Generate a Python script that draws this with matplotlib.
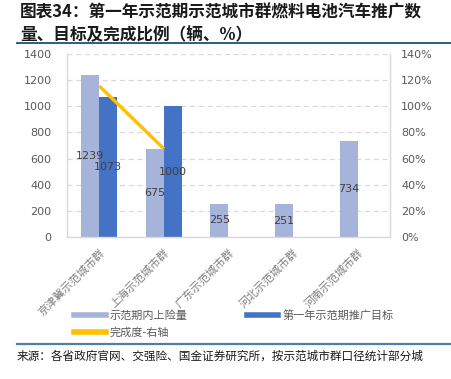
import matplotlib.pyplot as plt
from matplotlib.lines import Line2D
import numpy as np

plt.rcParams['font.family'] = ['Noto Sans CJK SC', 'DejaVu Sans']

cities = ['京津冀示范城市群', '上海示范城市群', '广东示范城市群', '河北示范城市群', '河南示范城市群']
insured = [1239, 675, 255, 251, 734]
target = [1073, 1000, None, None, None]
completion = [115.5, 67.5]  # % , only first two groups have a target

light = '#A6B4DA'
dark = '#4472C4'
yellow = '#FFC000'
grey = '#595959'

fig = plt.figure(figsize=(4.51, 3.79), dpi=100)
ax = fig.add_axes([0.1486, 0.3747, 0.7161, 0.4828])

x = np.arange(len(cities))
w = 0.28
ax.bar(x - w / 2, insured, w, color=light, zorder=2)
tx = [i for i, v in enumerate(target) if v is not None]
tv = [v for v in target if v is not None]
ax.bar(np.array(tx) + w / 2, tv, w, color=dark, zorder=2)

for i, v in enumerate(insured):
    ax.text(i - w / 2, v / 2, str(v), ha='center', va='center', fontsize=8,
            color='#404040', family='DejaVu Sans', zorder=5)
for i, v in zip(tx, tv):
    ax.text(i + w / 2, v / 2, str(v), ha='center', va='center', fontsize=8,
            color='#404040', family='DejaVu Sans', zorder=5)

ax.set_xlim(-0.5, 4.5)
ax.set_ylim(0, 1400)
ax.set_yticks(range(0, 1401, 200))
ax.yaxis.grid(True, linestyle=(0, (4, 3)), color='#D9D9D9', linewidth=0.9, zorder=0)
ax.set_xticks(x)
ax.set_xticklabels(cities, rotation=45, ha='right', va='top', rotation_mode='anchor',
                   fontsize=8, color='#7f7f7f')
ax.tick_params(axis='both', length=0, pad=7)
ax.tick_params(axis='y', labelsize=8, labelcolor=grey, pad=11)
for lab in ax.get_yticklabels():
    lab.set_family('DejaVu Sans')
ax.spines['top'].set_visible(False)
for s in ['left', 'right', 'bottom']:
    ax.spines[s].set_color('#D9D9D9')
    ax.spines[s].set_linewidth(1.0)

ax2 = ax.twinx()
ax2.plot(tx, completion, color=yellow, linewidth=2.4, solid_capstyle='butt', zorder=4)
ax2.set_ylim(0, 140)
ax2.set_yticks(range(0, 141, 20))
ax2.set_yticklabels([f'{v}%' for v in range(0, 141, 20)], family='DejaVu Sans')
ax2.tick_params(axis='y', length=0, labelsize=8, labelcolor=grey, pad=8)
for s in ['top', 'left', 'bottom']:
    ax2.spines[s].set_visible(False)
ax2.spines['right'].set_color('#D9D9D9')

handles = [Line2D([], [], color=light, linewidth=4),
           Line2D([], [], color=yellow, linewidth=4),
           Line2D([], [], color=dark, linewidth=4)]
labels = ['示范期内上险量', '完成度-右轴', '第一年示范期推广目标']
fig.legend(handles, labels, ncol=2, loc='upper left', bbox_to_anchor=(0.165, 0.181),
           frameon=False, fontsize=8, labelcolor=grey, handlelength=2.8,
           handletextpad=0.4, columnspacing=5.3, labelspacing=0.5,
           borderpad=0, borderaxespad=0)

fig.text(0.044, 1 - 12 / 379, '图表34：第一年示范期示范城市群燃料电池汽车推广数',
         fontsize=12, fontweight='bold', color='#1a1a1a', va='center')
fig.text(0.044, 1 - 35 / 379, '量、目标及完成比例（辆、%）',
         fontsize=12, fontweight='bold', color='#1a1a1a', va='center')
fig.add_artist(Line2D([17 / 451, 1], [1 - 42.5 / 379] * 2, color='#1F4E79', linewidth=1.3))
fig.add_artist(Line2D([17 / 451, 1], [1 - 344 / 379] * 2, color='#4E7FA0', linewidth=1.6))
fig.text(17 / 451, 1 - 356 / 379, '来源：各省政府官网、交强险、国金证券研究所，按示范城市群口径统计部分城',
         fontsize=8.4, color='#1a1a1a', va='center')

fig.savefig('out.png', dpi=100)
